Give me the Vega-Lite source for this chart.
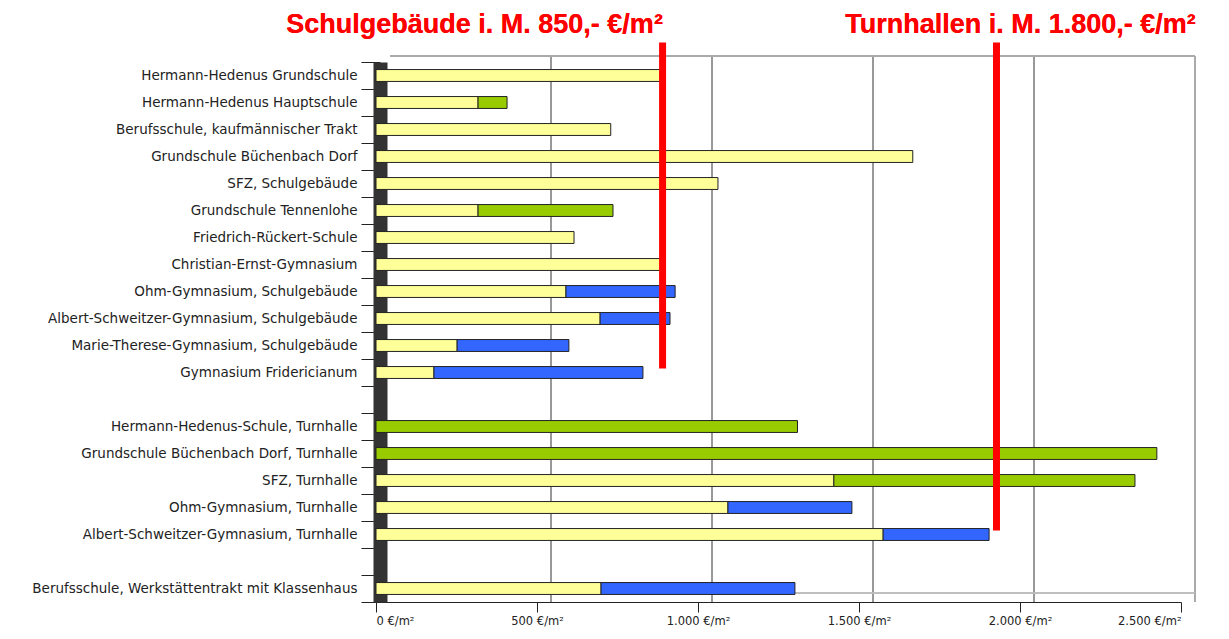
{
  "$schema": "https://vega.github.io/schema/vega-lite/v6.json",
  "width": 805,
  "height": 540,
  "autosize": {"type": "none"},
  "padding": {"left": 376, "top": 62, "right": 48, "bottom": 37},
  "background": "white",
  "config": {"view": {"stroke": null}, "font": "DejaVu Sans"},
  "datasets": {
    "kosten": [
      {"schule": "Hermann-Hedenus Grundschule", "teil": "gelb", "nr": 1, "wert": 882},
      {"schule": "Hermann-Hedenus Hauptschule", "teil": "gelb", "nr": 1, "wert": 317},
      {"schule": "Hermann-Hedenus Hauptschule", "teil": "grün", "nr": 2, "wert": 90},
      {"schule": "Berufsschule, kaufmännischer Trakt", "teil": "gelb", "nr": 1, "wert": 729},
      {"schule": "Grundschule Büchenbach Dorf", "teil": "gelb", "nr": 1, "wert": 1667},
      {"schule": "SFZ, Schulgebäude", "teil": "gelb", "nr": 1, "wert": 1062},
      {"schule": "Grundschule Tennenlohe", "teil": "gelb", "nr": 1, "wert": 317},
      {"schule": "Grundschule Tennenlohe", "teil": "grün", "nr": 2, "wert": 419},
      {"schule": "Friedrich-Rückert-Schule", "teil": "gelb", "nr": 1, "wert": 615},
      {"schule": "Christian-Ernst-Gymnasium", "teil": "gelb", "nr": 1, "wert": 888},
      {"schule": "Ohm-Gymnasium, Schulgebäude", "teil": "gelb", "nr": 1, "wert": 590},
      {"schule": "Ohm-Gymnasium, Schulgebäude", "teil": "blau", "nr": 2, "wert": 339},
      {"schule": "Albert-Schweitzer-Gymnasium, Schulgebäude", "teil": "gelb", "nr": 1, "wert": 696},
      {"schule": "Albert-Schweitzer-Gymnasium, Schulgebäude", "teil": "blau", "nr": 2, "wert": 217},
      {"schule": "Marie-Therese-Gymnasium, Schulgebäude", "teil": "gelb", "nr": 1, "wert": 252},
      {"schule": "Marie-Therese-Gymnasium, Schulgebäude", "teil": "blau", "nr": 2, "wert": 347},
      {"schule": "Gymnasium Fridericianum", "teil": "gelb", "nr": 1, "wert": 180},
      {"schule": "Gymnasium Fridericianum", "teil": "blau", "nr": 2, "wert": 649},
      {"schule": "Hermann-Hedenus-Schule, Turnhalle", "teil": "grün", "nr": 2, "wert": 1309},
      {"schule": "Grundschule Büchenbach Dorf, Turnhalle", "teil": "grün", "nr": 2, "wert": 2425},
      {"schule": "SFZ, Turnhalle", "teil": "gelb", "nr": 1, "wert": 1422},
      {"schule": "SFZ, Turnhalle", "teil": "grün", "nr": 2, "wert": 935},
      {"schule": "Ohm-Gymnasium, Turnhalle", "teil": "gelb", "nr": 1, "wert": 1093},
      {"schule": "Ohm-Gymnasium, Turnhalle", "teil": "blau", "nr": 2, "wert": 385},
      {"schule": "Albert-Schweitzer-Gymnasium, Turnhalle", "teil": "gelb", "nr": 1, "wert": 1575},
      {"schule": "Albert-Schweitzer-Gymnasium, Turnhalle", "teil": "blau", "nr": 2, "wert": 329},
      {"schule": "Berufsschule, Werkstättentrakt mit Klassenhaus", "teil": "gelb", "nr": 1, "wert": 699},
      {"schule": "Berufsschule, Werkstättentrakt mit Klassenhaus", "teil": "blau", "nr": 2, "wert": 602}
    ],
    "linien": [
      {"wert": 890, "von": "Hermann-Hedenus Grundschule", "bis": "Gymnasium Fridericianum"},
      {"wert": 1927, "von": "Hermann-Hedenus Grundschule", "bis": "Albert-Schweitzer-Gymnasium, Turnhalle"}
    ],
    "gitter": [{"wert": 500}, {"wert": 1000}, {"wert": 1500}, {"wert": 2000}]
  },
  "layer": [
    {
      "data": {"name": "gitter"},
      "mark": {"type": "rule", "color": "#333333", "strokeWidth": 1, "xOffset": 14, "yOffset": -6, "y2Offset": -9},
      "encoding": {"x": {"field": "wert", "type": "quantitative"}}
    },
    {
      "data": {"name": "gitter"},
      "mark": {"type": "rule", "color": "#aaaaaa", "strokeWidth": 2, "xOffset": 14, "yOffset": -6, "y2Offset": -9},
      "encoding": {"x": {"datum": 2500, "type": "quantitative"}}
    },
    {
      "data": {"name": "gitter"},
      "mark": {"type": "rule", "color": "#aaaaaa", "strokeWidth": 2, "xOffset": 14, "x2Offset": 14, "yOffset": -6},
      "encoding": {
        "x": {"datum": 0, "type": "quantitative"},
        "x2": {"datum": 2500},
        "y": {"datum": "Hermann-Hedenus Grundschule", "type": "nominal", "bandPosition": 0}
      }
    },
    {
      "data": {"name": "gitter"},
      "mark": {"type": "rule", "color": "#bbbbbb", "strokeWidth": 1, "xOffset": 14, "x2Offset": 14, "yOffset": -9},
      "encoding": {
        "x": {"datum": 0, "type": "quantitative"},
        "x2": {"datum": 2500},
        "y": {"datum": "Berufsschule, Werkstättentrakt mit Klassenhaus", "type": "nominal", "bandPosition": 1}
      }
    },
    {
      "data": {"name": "kosten"},
      "mark": {"type": "bar", "height": {"band": 0.44}, "stroke": "#222222", "strokeWidth": 1},
      "encoding": {
        "x": {
          "field": "wert", "type": "quantitative", "stack": "zero",
          "scale": {"domain": [0, 2500], "nice": false},
          "axis": {
            "title": null, "values": [0, 500, 1000, 1500, 2000, 2500],
            "labelExpr": "replace(format(datum.value, ','), ',', '.') + ' €/m²'",
            "grid": false, "domainColor": "#222222", "tickColor": "#222222", "tickSize": 10,
            "labelFontSize": 11.5, "labelColor": "#222222", "labelPadding": 3, "zindex": 0
          }
        },
        "y": {
          "field": "schule", "type": "nominal",
          "scale": {"domain": [
            "Hermann-Hedenus Grundschule",
            "Hermann-Hedenus Hauptschule",
            "Berufsschule, kaufmännischer Trakt",
            "Grundschule Büchenbach Dorf",
            "SFZ, Schulgebäude",
            "Grundschule Tennenlohe",
            "Friedrich-Rückert-Schule",
            "Christian-Ernst-Gymnasium",
            "Ohm-Gymnasium, Schulgebäude",
            "Albert-Schweitzer-Gymnasium, Schulgebäude",
            "Marie-Therese-Gymnasium, Schulgebäude",
            "Gymnasium Fridericianum",
            " ",
            "Hermann-Hedenus-Schule, Turnhalle",
            "Grundschule Büchenbach Dorf, Turnhalle",
            "SFZ, Turnhalle",
            "Ohm-Gymnasium, Turnhalle",
            "Albert-Schweitzer-Gymnasium, Turnhalle",
            "  ",
            "Berufsschule, Werkstättentrakt mit Klassenhaus"
          ], "paddingInner": 0, "paddingOuter": 0},
          "axis": {
            "title": null, "domainColor": "#333333", "domainWidth": 14, "offset": -4,
            "tickColor": "#222222", "tickSize": 19, "tickBand": "extent",
            "labelFontSize": 13.5, "labelColor": "#222222", "labelPadding": 4, "labelLimit": 500, "zindex": 0
          }
        },
        "color": {
          "field": "teil", "type": "nominal",
          "scale": {"domain": ["gelb", "grün", "blau"], "range": ["#FFFF99", "#99CC00", "#3366FF"]},
          "legend": null
        },
        "order": {"field": "nr", "type": "quantitative"}
      }
    },
    {
      "data": {"name": "linien"},
      "mark": {"type": "rule", "color": "#FF0000", "strokeWidth": 7, "yOffset": -33, "y2Offset": -4},
      "encoding": {
        "x": {"field": "wert", "type": "quantitative"},
        "y": {"field": "von", "type": "nominal"},
        "y2": {"field": "bis"}
      }
    },
    {
      "data": {"name": "linien"},
      "mark": {"type": "text", "text": "Schulgebäude i. M. 850,- €/m²", "font": "Liberation Sans", "color": "#FF0000", "fontSize": 27, "fontWeight": "bold", "align": "center", "baseline": "middle", "dx": -188, "yOffset": -51},
      "encoding": {
        "x": {"datum": 890, "type": "quantitative"},
        "y": {"datum": "Hermann-Hedenus Grundschule", "type": "nominal"}
      }
    },
    {
      "data": {"name": "linien"},
      "mark": {"type": "text", "text": "Turnhallen i. M. 1.800,- €/m²", "font": "Liberation Sans", "color": "#FF0000", "fontSize": 27, "fontWeight": "bold", "align": "center", "baseline": "middle", "dx": 24, "yOffset": -51},
      "encoding": {
        "x": {"datum": 1927, "type": "quantitative"},
        "y": {"datum": "Hermann-Hedenus Grundschule", "type": "nominal"}
      }
    }
  ]
}
